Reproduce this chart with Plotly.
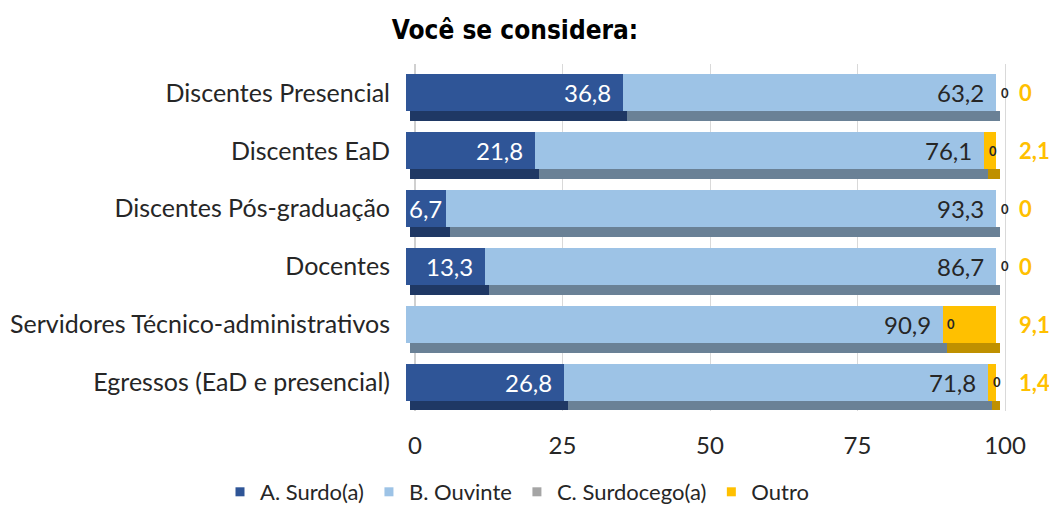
import plotly.graph_objects as go

categories = [
    "Discentes Presencial",
    "Discentes EaD",
    "Discentes Pós-graduação",
    "Docentes",
    "Servidores Técnico-administrativos",
    "Egressos (EaD e presencial)",
]
surdo = [36.8, 21.8, 6.7, 13.3, 0, 26.8]
ouvinte = [63.2, 76.1, 93.3, 86.7, 90.9, 71.8]
surdocego = [0, 0, 0, 0, 0, 0]
outro = [0, 2.1, 0, 0, 9.1, 1.4]
x_ticks = [0, 25, 50, 75, 100]

series_names = ["A. Surdo(a)", "B. Ouvinte", "C. Surdocego(a)", "Outro"]
series_values = [surdo, ouvinte, surdocego, outro]
front_colors = ["#2F5597", "#9DC3E6", "#A5A5A5", "#FFC000"]
depth_colors = ["#1F3864", "#6A8196", "#7F7F7F", "#BF9000"]
label_colors = ["#FFFFFF", "#262626", "#262626", "#FFC000"]

BODY_FONT = "Lato, Open Sans, sans-serif"
FRONT_SHIFT = -1.5   # 3D look: front face shifted left
DEPTH_SHIFT = -0.8   # bottom face shifted right of front

# page body has an 8px margin; figure sized to fit the window
W, H = 1049, 497


def fmt(v):
    return f"{v:.1f}".replace(".", ",")


fig = go.Figure()

bases = []
cum = [0.0] * len(categories)
for vals in series_values:
    bases.append(list(cum))
    cum = [c + v for c, v in zip(cum, vals)]

# depth (bottom) faces
for name, vals, base, dc in zip(series_names, series_values, bases, depth_colors):
    fig.add_trace(go.Bar(
        y=categories, x=vals, base=[b + DEPTH_SHIFT for b in base],
        orientation="h", offset=0.32, width=0.17,
        marker=dict(color=dc, line=dict(width=0)),
        showlegend=False, hoverinfo="skip",
    ))

# front faces
for i, (name, vals, base, fc) in enumerate(zip(series_names, series_values, bases, front_colors)):
    fig.add_trace(go.Bar(
        y=categories, x=vals, base=[b + FRONT_SHIFT for b in base],
        orientation="h", offset=-0.32, width=0.64,
        marker=dict(color=fc, line=dict(width=0)),
        showlegend=False, name=name,
    ))

# legend entries
for name, fc in zip(series_names, front_colors):
    fig.add_trace(go.Scatter(
        x=[None], y=[None], mode="markers", name=name,
        marker=dict(symbol="square", size=9, color=fc),
    ))

annotations = []
# value labels inside the end of Surdo and Ouvinte segments
for i in (0, 1):
    for cat, v, b in zip(categories, series_values[i], bases[i]):
        if v <= 0:
            continue
        if v < 10:  # narrow segment: centre the label in it
            ax, anchor, shift = b + v / 2 + FRONT_SHIFT, "center", 0
        else:
            ax, anchor, shift = b + v + FRONT_SHIFT, "right", -10
        annotations.append(dict(
            x=ax, y=cat, text=fmt(v), showarrow=False,
            xanchor=anchor, yanchor="middle", xshift=shift,
            font=dict(family=BODY_FONT, size=24, color=label_colors[i]),
        ))
# Surdocego "0" labels at boundary
for cat, v, b in zip(categories, surdocego, bases[2]):
    annotations.append(dict(
        x=b + v, y=cat, text=f"<b>{fmt(v) if v else '0'}</b>", showarrow=False,
        xanchor="center", yanchor="middle",
        font=dict(family=BODY_FONT, size=13, color="#262626"),
    ))
# Outro labels to the right
for cat, v in zip(categories, outro):
    annotations.append(dict(
        x=100, y=cat, text=f"<b>{fmt(v) if v else '0'}</b>", showarrow=False,
        xanchor="left", yanchor="middle", xshift=12,
        font=dict(family=BODY_FONT, size=22, color="#FFC000"),
    ))

fig.update_layout(
    width=W, height=H,
    barmode="overlay",
    bargap=0,
    paper_bgcolor="white", plot_bgcolor="white",
    margin=dict(l=397, r=49, t=56, b=94, autoexpand=False),
    title=dict(
        text="<b>Você se considera:</b>",
        x=507 / W, xanchor="center", xref="container",
        y=1 - 22 / H, yanchor="middle", yref="container",
        font=dict(family="DejaVu Sans Condensed, DejaVu Sans, sans-serif", size=26, color="#000000"),
    ),
    xaxis=dict(
        range=[-1.69, 100.5], tickvals=x_ticks, ticktext=[str(t) for t in x_ticks],
        showgrid=True, gridcolor="#D9D9D9", gridwidth=1,
        zeroline=True, zerolinecolor="#D0D0D0", zerolinewidth=2,
        showline=False, ticks="", ticklabelstandoff=18, automargin=False,
        tickfont=dict(family=BODY_FONT, size=24, color="#262626"),
    ),
    yaxis=dict(
        categoryorder="array", categoryarray=categories,
        range=[5.5, -0.5], showgrid=False, zeroline=False, showline=False,
        ticks="", ticklabelstandoff=14, automargin=False,
        tickfont=dict(family=BODY_FONT, size=25, color="#262626"),
    ),
    legend=dict(
        orientation="h", xref="container", yref="container",
        x=509 / W, xanchor="center", y=13 / H, yanchor="middle",
        font=dict(family=BODY_FONT, size=22, color="#262626"),
        itemwidth=30, tracegroupgap=0,
    ),
    annotations=annotations,
    showlegend=True,
)

fig.write_html("out.html")
